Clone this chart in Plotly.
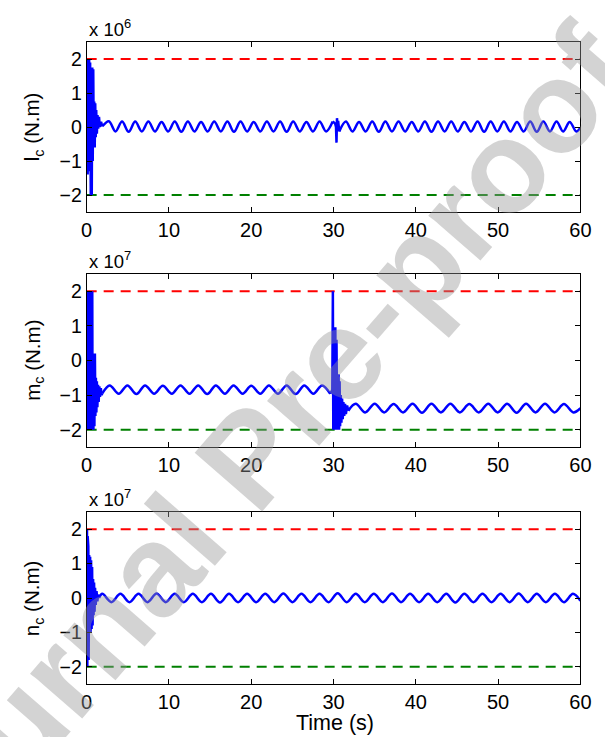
import plotly.graph_objects as go

# ---------------- data ----------------
LIMIT_T = [0, 60]
UPPER = [2, 2]
LOWER = [-2, -2]

# Panel 1: l_c (x 10^6 N.m)
L_START_T = [0.0, 0.06, 0.12, 0.18, 0.24, 0.3, 0.36, 0.42, 0.5, 0.56, 0.62, 0.68, 0.74, 0.8, 0.86,
             0.92, 0.98, 1.04, 1.1, 1.16, 1.24, 1.32, 1.4, 1.5, 1.6, 1.75, 1.9]
L_START_V = [-1.4, 2.0, -1.4, 2.0, -1.3, 2.0, -1.2, 1.9, -2.0, 1.0, -2.0, 1.75, -1.0, 1.7, -0.6,
             0.75, -0.6, 0.7, -0.3, 0.5, -0.2, 0.35, -0.05, 0.3, 0.0, 0.15, 0.02]
L_WAVE1_T = [1.9, 2.7, 3.5, 4.3, 5.1, 5.9, 6.7, 7.5, 8.3, 9.1, 9.9, 10.7, 11.5, 12.3, 13.1, 13.9,
             14.7, 15.5, 16.3, 17.1, 17.9, 18.7, 19.5, 20.3, 21.1, 21.9, 22.7, 23.5, 24.3, 25.1,
             25.9, 26.7, 27.5, 28.3, 29.1, 29.9]
L_WAVE1_V = [0.02, 0.17, -0.13, 0.16, -0.14, 0.16, -0.13, 0.16, -0.13, 0.15, -0.13, 0.16, -0.14,
             0.16, -0.13, 0.15, -0.13, 0.16, -0.13, 0.16, -0.14, 0.16, -0.13, 0.15, -0.13, 0.16,
             -0.13, 0.16, -0.14, 0.16, -0.13, 0.15, -0.13, 0.16, -0.13, 0.16]
L_SPIKE_T = [29.9, 30.2, 30.3, 30.36, 30.42, 30.48, 30.56, 30.7]
L_SPIKE_V = [0.16, 0.1, 0.0, -0.46, 0.26, 0.05, 0.18, -0.13]
L_WAVE2_T = [30.7, 31.5, 32.3, 33.1, 33.9, 34.7, 35.5, 36.3, 37.1, 37.9, 38.7, 39.5, 40.3, 41.1,
             41.9, 42.7, 43.5, 44.3, 45.1, 45.9, 46.7, 47.5, 48.3, 49.1, 49.9, 50.7, 51.5, 52.3,
             53.1, 53.9, 54.7, 55.5, 56.3, 57.1, 57.9, 58.7, 59.5, 60.0]
L_WAVE2_V = [-0.13, 0.16, -0.13, 0.15, -0.13, 0.16, -0.14, 0.16, -0.13, 0.16, -0.13, 0.15, -0.13,
             0.16, -0.14, 0.16, -0.13, 0.16, -0.13, 0.15, -0.13, 0.16, -0.14, 0.16, -0.13, 0.16,
             -0.13, 0.15, -0.13, 0.16, -0.14, 0.16, -0.13, 0.16, -0.13, 0.15, -0.13, -0.02]

# Panel 2: m_c (x 10^7 N.m)
M_START_T = [0.0, 0.04, 0.08, 0.12, 0.16, 0.2, 0.24, 0.28, 0.32, 0.36, 0.4, 0.44, 0.48, 0.52, 0.56,
             0.6, 0.64, 0.68, 0.72, 0.76, 0.82, 0.88, 0.94, 1.0, 1.06, 1.12, 1.18, 1.24, 1.3, 1.38,
             1.46, 1.54, 1.62, 1.72, 1.82, 1.9]
M_START_V = [-1.5, 2.0, -2.0, 2.0, -2.0, 2.0, -2.0, 2.0, -2.0, 2.0, -2.0, 2.0, -2.0, 2.0, -2.0,
             2.0, -2.0, 2.0, -2.0, 0.2, -2.0, 0.2, -1.9, 0.2, -1.6, -0.5, -1.5, -0.6, -1.35, -0.7,
             -1.2, -0.75, -1.05, -0.8, -1.0, -0.95]
M_WAVE1_T = [1.9, 2.8, 3.9, 4.95, 6.05, 7.1, 8.2, 9.25, 10.35, 11.4, 12.5, 13.55, 14.65, 15.7,
             16.8, 17.85, 18.95, 20.0, 21.1, 22.15, 23.25, 24.3, 25.4, 26.45, 27.55, 28.6, 29.6]
M_WAVE1_V = [-0.95, -0.72, -0.96, -0.72, -0.97, -0.72, -0.96, -0.73, -0.96, -0.72, -0.96, -0.72,
             -0.97, -0.72, -0.96, -0.72, -0.96, -0.73, -0.96, -0.72, -0.96, -0.72, -0.97, -0.72,
             -0.96, -0.72, -0.96]
M_SPIKE_T = [29.6, 29.85, 29.92, 29.97, 30.05, 30.15, 30.22, 30.28, 30.36, 30.44, 30.5, 30.56,
             30.62, 30.68, 30.74, 30.8, 30.88, 30.96, 31.04, 31.12, 31.2, 31.3, 31.4, 31.5, 31.65,
             31.8]
M_SPIKE_V = [-0.96, -0.85, 2.0, -2.0, 0.2, -2.0, 0.96, -2.0, 0.6, -2.0, -0.4, -2.0, -0.4, -2.0,
             -0.6, -1.9, -1.0, -1.8, -1.1, -1.7, -1.2, -1.6, -1.25, -1.55, -1.3, -1.45]
M_WAVE2_T = [31.8, 32.7, 33.85, 35.0, 36.15, 37.3, 38.45, 39.6, 40.75, 41.9, 43.05, 44.2, 45.35,
             46.5, 47.65, 48.8, 49.95, 51.1, 52.25, 53.4, 54.55, 55.7, 56.85, 58.0, 59.15, 60.0]
M_WAVE2_V = [-1.45, -1.25, -1.5, -1.25, -1.5, -1.26, -1.5, -1.25, -1.51, -1.25, -1.5, -1.25,
             -1.5, -1.26, -1.5, -1.25, -1.5, -1.25, -1.51, -1.25, -1.5, -1.25, -1.5, -1.26, -1.5,
             -1.38]

# Panel 3: n_c (x 10^7 N.m)
N_START_T = [0.0, 0.04, 0.08, 0.12, 0.16, 0.2, 0.24, 0.3, 0.36, 0.42, 0.48, 0.54, 0.6, 0.66,
             0.72, 0.78, 0.84, 0.9, 0.96, 1.02, 1.1, 1.2, 1.3, 1.4, 1.5]
N_START_V = [0.0, 2.0, -2.0, 1.8, -2.0, 1.5, -1.8, 1.25, -1.0, 1.2, -1.0, 1.1, -0.9, 0.9, -0.8,
             0.55, -0.5, 0.45, -0.4, 0.3, -0.2, 0.2, -0.1, 0.1, 0.0]
N_WAVE_T = [1.5, 1.9, 3.0, 4.1, 5.2, 6.3, 7.4, 8.5, 9.6, 10.7, 11.8, 12.9, 14.0, 15.1, 16.2, 17.3,
            18.4, 19.5, 20.6, 21.7, 22.8, 23.9, 25.0, 26.1, 27.2, 28.3, 29.4, 30.5, 31.6, 32.7,
            33.8, 34.9, 36.0, 37.1, 38.2, 39.3, 40.4, 41.5, 42.6, 43.7, 44.8, 45.9, 47.0, 48.1,
            49.2, 50.3, 51.4, 52.5, 53.6, 54.7, 55.8, 56.9, 58.0, 59.1, 60.0]
N_WAVE_V = [0.0, 0.12, -0.12, 0.12, -0.12, 0.12, -0.12, 0.13, -0.12, 0.12, -0.12, 0.12, -0.12,
            0.12, -0.13, 0.12, -0.12, 0.12, -0.12, 0.12, -0.12, 0.13, -0.12, 0.12, -0.12, 0.12,
            -0.12, 0.14, -0.12, 0.12, -0.12, 0.12, -0.12, 0.13, -0.12, 0.12, -0.12, 0.12, -0.12,
            0.12, -0.13, 0.12, -0.12, 0.12, -0.12, 0.12, -0.12, 0.13, -0.12, 0.12, -0.12, 0.12,
            -0.12, 0.12, -0.08]

X_TICKS = [0, 10, 20, 30, 40, 50, 60]
Y_TICKS = [-2, -1, 0, 1, 2]
Y_TICKTEXT = ["\u22122", "\u22121", "0", "1", "2"]
Y_TITLES = ["l<sub>c</sub> (N.m)", "m<sub>c</sub> (N.m)", "n<sub>c</sub> (N.m)"]
EXPONENTS = ["x 10<sup>6</sup>", "x 10<sup>7</sup>", "x 10<sup>7</sup>"]
X_TITLE = "Time (s)"
WATERMARK = "Journal Pre-proof"

# ---------------- figure ----------------
W, H = 605, 737
FONT = "Liberation Sans, Arial, Helvetica, sans-serif"
BLUE = "#0000ff"
RED = "#ff0000"
GREEN = "#008000"

X_LEFT, X_RIGHT = 83, 591
PANELS = [(42, 212), (274, 447), (512, 684)]

fig = go.Figure()

panels_data = [
    [(L_START_T, L_START_V, "linear"), (L_WAVE1_T, L_WAVE1_V, "spline"),
     (L_SPIKE_T, L_SPIKE_V, "linear"), (L_WAVE2_T, L_WAVE2_V, "spline")],
    [(M_START_T, M_START_V, "linear"), (M_WAVE1_T, M_WAVE1_V, "spline"),
     (M_SPIKE_T, M_SPIKE_V, "linear"), (M_WAVE2_T, M_WAVE2_V, "spline")],
    [(N_START_T, N_START_V, "linear"), (N_WAVE_T, N_WAVE_V, "spline")],
]

for i, segs in enumerate(panels_data):
    xa = "x" if i == 0 else f"x{i+1}"
    ya = "y" if i == 0 else f"y{i+1}"
    fig.add_trace(go.Scatter(x=LIMIT_T, y=UPPER, mode="lines", xaxis=xa, yaxis=ya,
                             line=dict(color=RED, width=2, dash="10px,7px"), showlegend=False,
                             hoverinfo="skip"))
    fig.add_trace(go.Scatter(x=LIMIT_T, y=LOWER, mode="lines", xaxis=xa, yaxis=ya,
                             line=dict(color=GREEN, width=2, dash="10px,7px"), showlegend=False,
                             hoverinfo="skip"))
    for t, v, shape in segs:
        line = dict(color=BLUE, width=2.5, shape=shape)
        if shape == "spline":
            line["smoothing"] = 1.0
        fig.add_trace(go.Scatter(x=t, y=v, mode="lines", xaxis=xa, yaxis=ya, line=line,
                                 showlegend=False))

layout = dict(width=W, height=H, margin=dict(l=0, r=0, t=0, b=0),
              paper_bgcolor="white", plot_bgcolor="white",
              font=dict(family=FONT, size=19.5, color="black"))

annotations = []
for i, (top, bot) in enumerate(PANELS):
    sx = "" if i == 0 else str(i + 1)
    dom_y = [1 - bot / H, 1 - top / H]
    layout["xaxis" + sx] = dict(domain=[X_LEFT / W, X_RIGHT / W], anchor="y" + sx,
                                range=[0, 60], tickvals=X_TICKS, ticks="inside", ticklen=5,
                                tickcolor="black", showline=True, linecolor="black",
                                linewidth=1, mirror="ticks", showgrid=False, zeroline=False,
                                tickfont=dict(size=20))
    layout["yaxis" + sx] = dict(domain=dom_y, anchor="x" + sx, range=[-2.5, 2.5],
                                tickvals=Y_TICKS, ticktext=Y_TICKTEXT,
                                ticks="inside", ticklen=5, tickcolor="black",
                                showline=True, linecolor="black", linewidth=1, mirror="ticks",
                                showgrid=False, zeroline=False, tickfont=dict(size=19.5))
    annotations.append(dict(text=EXPONENTS[i], xref="paper", yref="paper",
                            x=X_LEFT / W, y=1 - (top - 14) / H, xanchor="left",
                            yanchor="middle", showarrow=False, font=dict(size=18.5)))
    annotations.append(dict(text=Y_TITLES[i], xref="paper", yref="paper",
                            x=28 / W, y=1 - (top + bot) / 2 / H, xanchor="center",
                            yanchor="middle", textangle=-90, showarrow=False,
                            font=dict(size=20.5)))

annotations.append(dict(text=X_TITLE, xref="paper", yref="paper", x=338 / W, y=1 - 723 / H,
                        xanchor="center", yanchor="middle", showarrow=False,
                        font=dict(size=21.5)))
annotations.append(dict(text="<b>" + WATERMARK + "</b>", xref="paper", yref="paper",
                        x=250 / W, y=1 - 458 / H,
                        xanchor="center", yanchor="middle", showarrow=False, textangle=-49,
                        font=dict(size=130, color="rgba(150,150,150,0.42)",
                                  family="Liberation Sans, Arial, sans-serif")))
layout["annotations"] = annotations
fig.update_layout(**layout)

fig.write_html("out.html")
